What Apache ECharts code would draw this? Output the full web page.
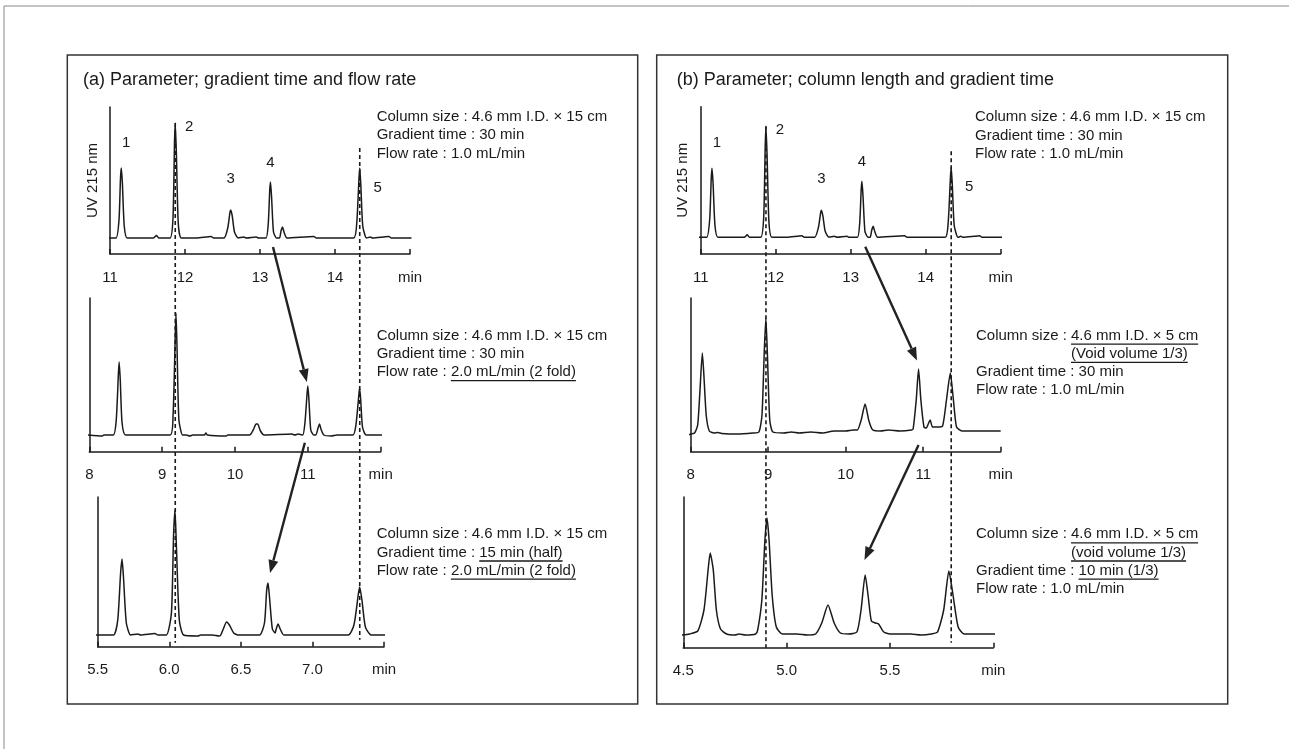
<!DOCTYPE html>
<html>
<head>
<meta charset="utf-8">
<script src="https://cdn.jsdelivr.net/npm/echarts@6/dist/echarts.min.js"></script>
<style>
  html, body { margin: 0; padding: 0; background: #fff; }
  #chart { width: 1289px; height: 749px; }
</style>
</head>
<body>
<div id="chart"></div>
<script>
// chromatogram traces, [time (min), UV signal]
const traceA1 = [
  [10.97,0],[11.08,0],[11.12,18],[11.14,60],[11.15,70],[11.165,55],[11.19,12],[11.23,0],
  [11.58,0],[11.62,2.5],[11.65,0],
  [11.8,0],[11.84,20],[11.86,95],[11.87,115],[11.885,85],[11.91,15],[11.95,0],
  [12.15,0],[12.35,1.5],[12.38,0],
  [12.52,0],[12.57,10],[12.6,26],[12.61,28],[12.63,22],[12.66,6],[12.71,0],
  [12.78,1],[12.82,0],[12.95,1],[12.98,0],
  [13.08,0],[13.11,14],[13.13,48],[13.14,56],[13.155,40],[13.18,6],[13.22,0],
  [13.26,0],[13.28,7],[13.3,11],[13.32,6],[13.36,0],
  [13.72,1.5],[13.75,0],
  [14.25,0],[14.29,15],[14.32,60],[14.33,70],[14.345,52],[14.37,12],[14.42,0],
  [14.47,1],[14.5,0],[14.65,1],[14.72,1.5],[14.75,0],[15.02,0]
];
const traceA2 = [
  [7.98,0],[8.18,-1],[8.2,0],[8.33,0],[8.37,15],[8.4,62],[8.41,73],[8.425,55],[8.45,12],[8.5,0],
  [9.11,0],[9.15,20],[9.18,100],[9.19,122],[9.205,85],[9.23,15],[9.28,0],[9.33,0],[9.38,-1],[9.42,0],
  [9.58,0],[9.6,2],[9.62,0],[9.88,-1],[9.9,0],
  [10.2,0],[10.25,5],[10.29,11],[10.31,11],[10.35,4],[10.4,0],
  [10.78,1],[10.82,0],[10.87,1],
  [10.93,0],[10.96,12],[10.99,42],[11.0,49],[11.015,35],[11.04,5],[11.08,0],
  [11.11,0],[11.14,7],[11.16,11],[11.18,6],[11.22,0],[11.32,-1],[11.4,0],
  [11.62,0],[11.66,10],[11.7,40],[11.71,47],[11.725,36],[11.75,8],[11.8,0],[12.02,0]
];
const traceA3 = [
  [5.48,0],[5.61,0],[5.64,15],[5.66,62],[5.67,76],[5.68,58],[5.7,12],[5.73,0],
  [5.78,1],[5.8,0],[5.9,1.5],[5.92,0],
  [5.98,0],[6.015,22],[6.03,100],[6.04,125],[6.05,88],[6.07,15],[6.1,0],[6.2,-1],[6.22,0],
  [6.3,0],[6.35,-1],[6.36,0],
  [6.38,7],[6.4,13],[6.42,10],[6.45,2],[6.48,0],
  [6.63,0],[6.665,12],[6.68,44],[6.69,52],[6.7,38],[6.72,6],[6.74,2],
  [6.745,5],[6.76,11],[6.775,6],[6.8,0],
  [7.25,0],[7.29,10],[7.32,40],[7.33,48],[7.345,36],[7.37,8],[7.41,0],[7.52,0]
];
const traceB1 = [
  [10.97,0],[11.08,0],[11.12,18],[11.14,58],[11.15,69],[11.165,54],[11.19,12],[11.23,0],
  [11.58,0],[11.62,2.5],[11.65,0],
  [11.8,0],[11.84,20],[11.86,90],[11.87,111],[11.885,82],[11.91,15],[11.95,0],
  [12.15,0],[12.35,1.5],[12.38,0],
  [12.52,0],[12.57,10],[12.6,25],[12.61,27],[12.63,21],[12.66,6],[12.71,0],
  [12.78,1],[12.82,0],[12.95,1],[12.98,0],
  [13.09,0],[13.12,14],[13.14,48],[13.15,56],[13.165,40],[13.19,6],[13.23,0],
  [13.26,0],[13.28,7],[13.3,11],[13.32,6],[13.36,0],
  [13.72,1.5],[13.75,0],
  [14.26,0],[14.3,15],[14.33,60],[14.34,70],[14.355,52],[14.38,12],[14.43,0],
  [14.47,1],[14.5,0],[14.65,1],[14.72,1.5],[14.75,0],[15.02,0]
];
const traceB2 = [
  [7.97,0],[8.0,1],[8.05,2],[8.09,10],[8.12,45],[8.15,82],[8.17,60],[8.2,20],[8.24,4],
  [8.3,2],[8.35,2.5],[8.4,1.5],[8.6,1],[8.8,2],
  [8.88,3],[8.92,20],[8.95,85],[8.97,117],[8.99,80],[9.02,15],[9.06,3],
  [9.2,2],[9.3,3],[9.4,2],[9.55,3],[9.7,2],[9.85,4],[10.0,4],[10.1,5],
  [10.15,5],[10.2,15],[10.25,31],[10.3,14],[10.35,5],[10.45,4],[10.55,5],[10.7,4],[10.85,5],
  [10.87,6],[10.91,35],[10.94,66],[10.97,35],[11.01,8],[11.04,7],
  [11.07,12],[11.09,15],[11.12,8],[11.18,8],
  [11.25,9],[11.3,35],[11.35,62],[11.39,35],[11.43,8],[11.5,4],[12.0,4]
];
const traceB3 = [
  [4.49,0],[4.53,1],[4.57,4],[4.6,25],[4.62,65],[4.63,82],[4.645,65],[4.66,25],[4.68,6],[4.71,1],
  [4.75,0],[4.77,1],[4.8,0],[4.85,1],
  [4.86,5],[4.88,35],[4.895,95],[4.905,117],[4.915,95],[4.93,40],[4.95,8],[4.98,1],[5.05,1],[5.1,0],
  [5.14,1],[5.17,12],[5.2,30],[5.23,12],[5.26,2],[5.3,1],
  [5.34,3],[5.36,25],[5.38,60],[5.395,38],[5.41,14],
  [5.43,12],[5.445,11],[5.47,3],[5.5,1],[5.6,1],[5.65,0],[5.7,1],
  [5.73,3],[5.76,25],[5.785,64],[5.805,40],[5.83,8],[5.86,1],[6.01,1]
];

// apex of peaks 1..5 in each run: [time, signal]
const peaksA1 = [[11.15,70],[11.87,115],[12.61,28],[13.14,56],[14.33,70]];
const peaksA2 = [[8.41,73],[9.19,122],[10.3,11],[11.0,49],[11.71,47]];
const peaksA3 = [[5.67,76],[6.04,125],[6.4,13],[6.69,52],[7.33,48]];
const peaksB1 = [[11.15,69],[11.87,111],[12.61,27],[13.15,56],[14.34,70]];
const peaksB2 = [[8.15,82],[8.97,117],[10.25,31],[10.94,66],[11.35,62]];
const peaksB3 = [[4.63,82],[4.905,117],[5.2,30],[5.38,60],[5.785,64]];
const peakNames = ['1', '2', '3', '4', '5'];

// x axes: [min, max, interval, decimals]
const axisA1 = [11, 15, 1, 0];
const axisA2 = [8, 12, 1, 0];
const axisA3 = [5.5, 7.5, 0.5, 1];
const axisB1 = [11, 15, 1, 0];
const axisB2 = [8, 12, 1, 0];
const axisB3 = [4.5, 6, 0.5, 1];

const panelTitles = ['(a) Parameter; gradient time and flow rate', '(b) Parameter; column length and gradient time'];

// condition text: [plain part, underlined part]; null plain = indented continuation
const condA1 = [['Column size : 4.6 mm I.D. \u00d7 15 cm', ''], ['Gradient time : 30 min', ''], ['Flow rate : 1.0 mL/min', '']];
const condA2 = [['Column size : 4.6 mm I.D. \u00d7 15 cm', ''], ['Gradient time : 30 min', ''], ['Flow rate : ', '2.0 mL/min (2 fold)']];
const condA3 = [['Column size : 4.6 mm I.D. \u00d7 15 cm', ''], ['Gradient time : ', '15 min (half)'], ['Flow rate : ', '2.0 mL/min (2 fold)']];
const condB1 = [['Column size : 4.6 mm I.D. \u00d7 15 cm', ''], ['Gradient time : 30 min', ''], ['Flow rate : 1.0 mL/min', '']];
const condB2 = [['Column size : ', '4.6 mm I.D. \u00d7 5 cm'], [null, '(Void volume 1/3)'], ['Gradient time : 30 min', ''], ['Flow rate : 1.0 mL/min', '']];
const condB3 = [['Column size : ', '4.6 mm I.D. \u00d7 5 cm'], [null, '(void volume 1/3)'], ['Gradient time : ', '10 min (1/3)'], ['Flow rate : 1.0 mL/min', '']];

const traces = [traceA1, traceA2, traceA3, traceB1, traceB2, traceB3];
const peaks = [peaksA1, peaksA2, peaksA3, peaksB1, peaksB2, peaksB3];
const axes = [axisA1, axisA2, axisA3, axisB1, axisB2, axisB3];
const conds = [condA1, condA2, condA3, condB1, condB2, condB3];

// layout
const grids = [
  { left: 110, top: 107, width: 300, height: 147 },
  { left: 89.3, top: 298, width: 291.4, height: 153.7 },
  { left: 97.7, top: 497, width: 286.3, height: 149.7 },
  { left: 700.7, top: 106.7, width: 300, height: 147.3 },
  { left: 690.7, top: 298, width: 310, height: 153.7 },
  { left: 683.3, top: 497, width: 310, height: 150.7 }
];
const yRanges = [[-16, 131], [-16.7, 137], [-11.7, 138], [-16.7, 130.6], [-16.7, 137], [-12.7, 138]];
const condPos = [[376.7, 117], [376.7, 335.7], [376.7, 534.3], [975, 117.3], [976, 335.7], [976, 534.3]];
const labelOffsets = [[5, -25], [14, 4], [0, -31], [0, -19], [18, 20]];

const FONT = '"Liberation Sans", Arial, Helvetica, sans-serif';
const INK = '#1a1a1a';

const chart = echarts.init(document.getElementById('chart'), null, { renderer: 'canvas' });

const xAxes = axes.map((a, i) => ({
  gridIndex: i, type: 'value', min: a[0], max: a[1], interval: a[2], position: 'bottom',
  axisLine: { onZero: false, lineStyle: { color: INK, width: 1.5 } },
  axisTick: { inside: true, length: 5, lineStyle: { color: INK, width: 1.5 } },
  splitLine: { show: false },
  axisLabel: {
    color: INK, fontSize: 15, fontFamily: FONT, margin: 16,
    formatter: v => (Math.abs(v - a[1]) < 1e-9 ? 'min' : v.toFixed(a[3]))
  }
}));

const yAxes = yRanges.map((r, i) => ({
  gridIndex: i, type: 'value', min: r[0], max: r[1],
  axisLine: { show: true, onZero: false, lineStyle: { color: INK, width: 1.5 } },
  axisTick: { show: false }, axisLabel: { show: false }, splitLine: { show: false },
  name: (i === 0 || i === 3) ? 'UV 215 nm' : '',
  nameLocation: 'middle', nameGap: 10, nameRotate: 90,
  nameTextStyle: { color: INK, fontSize: 15, fontFamily: FONT }
}));

const series = traces.map((t, i) => ({
  type: 'line', xAxisIndex: i, yAxisIndex: i, data: t,
  showSymbol: false, smooth: 0.2, clip: false, silent: true,
  lineStyle: { color: INK, width: 1.5 }
}));

chart.setOption({
  animation: false,
  backgroundColor: '#fff',
  grid: grids.map(g => Object.assign({ outerBoundsMode: 'none', containLabel: false }, g)),
  xAxis: xAxes,
  yAxis: yAxes,
  series: series
});

// helpers for the overlay
const ctx = document.createElement('canvas').getContext('2d');
ctx.font = '15px ' + FONT;
const textW = s => ctx.measureText(s).width;
const px = (i, p) => chart.convertToPixel({ gridIndex: i }, p);

const graphic = [];

// outer frame and panel frames
graphic.push({ type: 'rect', shape: { x: 4, y: 6, width: 1300, height: 800 }, style: { fill: 'none', stroke: '#888', lineWidth: 1 }, silent: true });
graphic.push({ type: 'rect', shape: { x: 67.3, y: 55, width: 570.4, height: 649 }, style: { fill: 'none', stroke: '#333', lineWidth: 1.5 }, silent: true });
graphic.push({ type: 'rect', shape: { x: 656.7, y: 55, width: 571, height: 649 }, style: { fill: 'none', stroke: '#333', lineWidth: 1.5 }, silent: true });

panelTitles.forEach((t, k) => {
  graphic.push({ type: 'text', x: k === 0 ? 83 : 676.7, y: 80, style: { text: t, fontSize: 18, fontFamily: FONT, fill: INK, verticalAlign: 'middle' }, silent: true });
});

// condition blocks with underlines
conds.forEach((lines, i) => {
  const [x0, y0] = condPos[i];
  let ulStart = x0;
  lines.forEach((ln, j) => {
    const y = y0 + j * 18.2;
    let x = x0;
    if (ln[0] === null) {
      x = ulStart;
    } else if (ln[0]) {
      graphic.push({ type: 'text', x: x0, y: y, style: { text: ln[0], fontSize: 15, fontFamily: FONT, fill: INK, verticalAlign: 'middle' }, silent: true });
      x = x0 + textW(ln[0]);
    }
    if (ln[1]) {
      ulStart = x;
      graphic.push({ type: 'text', x: x, y: y, style: { text: ln[1], fontSize: 15, fontFamily: FONT, fill: INK, verticalAlign: 'middle' }, silent: true });
      graphic.push({ type: 'line', shape: { x1: x, y1: y + 8.5, x2: x + textW(ln[1]), y2: y + 8.5 }, style: { stroke: INK, lineWidth: 1.3 }, silent: true });
    }
  });
});

// peak numbers on the top runs
[0, 3].forEach(i => {
  peaks[i].forEach((p, k) => {
    const q = px(i, p);
    graphic.push({ type: 'text', x: q[0] + labelOffsets[k][0], y: q[1] + labelOffsets[k][1], style: { text: peakNames[k], fontSize: 15, fontFamily: FONT, fill: INK, align: 'center', verticalAlign: 'middle' }, silent: true });
  });
});

// dashed guide lines through peaks 2 and 5 of the top run
function dashed(top, bottom, k, above, endGap) {
  const a = px(top, peaks[top][k]);
  const axisY = grids[bottom].top + grids[bottom].height;
  graphic.push({ type: 'line', shape: { x1: a[0], y1: a[1] - above, x2: a[0], y2: axisY - endGap }, style: { stroke: INK, lineWidth: 1.6, lineDash: [4, 3] }, silent: true });
}
dashed(0, 2, 1, 0, 4);
dashed(0, 2, 4, 20, 7);
dashed(3, 5, 1, 0, 0);
dashed(3, 5, 4, 16, 5);

// arrows following peak 4
function arrow(x1, y1, x2, y2) {
  const dx = x2 - x1, dy = y2 - y1, len = Math.hypot(dx, dy);
  const ux = dx / len, uy = dy / len, hl = 13, hw = 5;
  const bx = x2 - ux * hl, by = y2 - uy * hl;
  graphic.push({ type: 'line', shape: { x1: x1, y1: y1, x2: bx, y2: by }, style: { stroke: '#222', lineWidth: 2.4 }, silent: true });
  graphic.push({ type: 'polygon', shape: { points: [[x2, y2], [bx - uy * hw, by + ux * hw], [bx + uy * hw, by - ux * hw]] }, style: { fill: '#222' }, silent: true });
}
function peakArrow(from, to, sx, sy, ex, ey) {
  const a = px(from, peaks[from][3]);
  const b = px(to, peaks[to][3]);
  const axisY = grids[from].top + grids[from].height;
  arrow(a[0] + sx, axisY + sy, b[0] + ex, b[1] + ey);
}
peakArrow(0, 1, 2.5, -7, -1, -4);
peakArrow(1, 2, -3, -9, 2, -10);
peakArrow(3, 4, 3.3, -7.3, -1.6, -8.6);
peakArrow(4, 5, 0, -6.7, -0.7, -15);

chart.setOption({ graphic: graphic });
</script>
</body>
</html>
